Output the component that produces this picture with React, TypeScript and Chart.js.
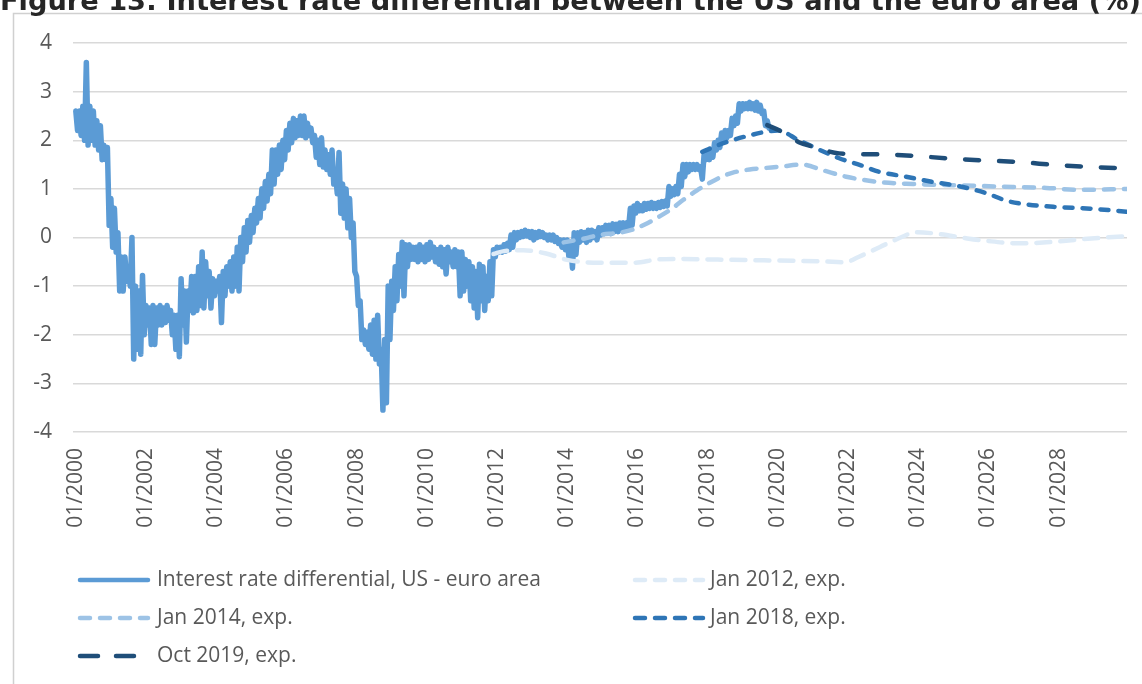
import React, { useEffect, useRef } from "react";
import { Chart, registerables } from "chart.js";

Chart.register(...registerables);

// ---------- text ----------
const TITLE = "Figure 13: Interest rate differential between the US and the euro area (%)";
const SERIES_LABELS = [
  "Interest rate differential, US - euro area",
  "Jan 2012, exp.",
  "Jan 2014, exp.",
  "Jan 2018, exp.",
  "Oct 2019, exp.",
];

// ---------- axes ----------
const X_TICK_YEARS = [2000, 2002, 2004, 2006, 2008, 2010, 2012, 2014, 2016, 2018, 2020, 2022, 2024, 2026, 2028];
const X_MIN = 1999.92;
const X_MAX = 2029.95;
const Y_MIN = -4;
const Y_MAX = 4;
const Y_STEP = 1;

// ---------- observed differential (upper / lower envelope per ~0.1 year slot) ----------
const mainStartYear = 2000;
const mainStepYears = 0.1;
const mainHigh = [
  // 2000
  2.6, 2.6, 2.7, 3.6, 2.7, 2.6, 2.4, 2.3, 1.9, 1.85,
  // 2001
  0.8, 0.6, 0.1, -0.4, -0.4, -0.6, 0.0, -1.0, -1.1, -0.78,
  // 2002
  -1.4, -1.45, -1.4, -1.45, -1.4, -1.45, -1.4, -1.5, -1.6, -1.6,
  // 2003
  -0.85, -1.1, -1.1, -0.8, -0.8, -0.6, -0.3, -0.5, -0.7, -0.85,
  // 2004
  -0.9, -0.8, -0.7, -0.6, -0.5, -0.4, -0.2, 0.0, 0.2, 0.35,
  // 2005
  0.45, 0.6, 0.8, 1.0, 1.15, 1.3, 1.8, 1.8, 1.9, 2.0,
  // 2006
  2.2, 2.35, 2.45, 2.4, 2.5, 2.5, 2.35, 2.25, 2.1, 2.0,
  // 2007
  2.05, 1.8, 1.7, 1.8, 1.3, 1.75, 1.1, 1.0, 0.8, 0.3,
  // 2008
  -0.8, -1.3, -1.9, -1.95, -1.8, -1.7, -1.6, -2.3, -2.1, -1.0,
  // 2009
  -0.9, -0.6, -0.35, -0.1, -0.15, -0.15, -0.2, -0.2, -0.15, -0.2,
  // 2010
  -0.15, -0.1, -0.2, -0.25, -0.2, -0.25, -0.2, -0.3, -0.25, -0.3,
  // 2011
  -0.3, -0.45, -0.5, -0.6, -0.7, -0.55, -0.6, -0.8, -0.5, -0.25,
  // 2012
  -0.2, -0.2, -0.15, -0.12, 0.05, 0.1, 0.1, 0.12, 0.15, 0.12,
  // 2013
  0.12, 0.1, 0.12, 0.1, 0.05, 0.05, 0.05, 0.0, -0.05, -0.05,
  // 2014
  -0.05, -0.1, 0.1, 0.1, 0.12, 0.1, 0.15, 0.15, 0.12, 0.2,
  // 2015
  0.2, 0.25, 0.25, 0.28, 0.27, 0.3, 0.3, 0.3, 0.6, 0.65,
  // 2016
  0.7, 0.65, 0.7, 0.7, 0.72, 0.7, 0.72, 0.74, 0.75, 1.05,
  // 2017
  1.0, 1.05, 1.3, 1.5, 1.5, 1.5, 1.5, 1.5, 1.45, 1.7,
  // 2018
  1.75, 1.8, 1.95, 2.0, 2.15, 2.2, 2.2, 2.45, 2.5, 2.75,
  // 2019
  2.75, 2.75, 2.78, 2.75, 2.78, 2.72, 2.6, 2.4,
];
const mainLow = [
  // 2000
  2.2, 2.1, 2.0, 1.9, 2.0, 1.9, 1.8, 1.6, 1.6, 0.25,
  // 2001
  -0.2, -0.3, -1.1, -1.1, -0.9, -1.0, -2.5, -2.3, -2.4, -2.0,
  // 2002
  -1.8, -2.2, -2.2, -1.8, -1.8, -1.75, -1.7, -2.0, -2.3, -2.45,
  // 2003
  -1.8, -2.15, -1.5, -1.55, -1.5, -1.4, -1.45, -1.2, -1.45, -1.2,
  // 2004
  -1.1, -1.75, -1.2, -1.0, -1.1, -1.0, -1.1, -0.5, -0.3, -0.1,
  // 2005
  0.1, 0.3, 0.4, 0.6, 0.75, 0.9, 1.1, 1.3, 1.4, 1.6,
  // 2006
  1.8, 1.95, 2.05, 2.1, 2.1, 2.05, 2.1, 1.95, 1.65, 1.5,
  // 2007
  1.45, 1.4, 1.3, 1.1, 0.9, 0.5, 0.4, 0.2, 0.0, -0.7,
  // 2008
  -1.4, -2.1, -2.2, -2.3, -2.4, -2.5, -2.6, -3.55, -3.4, -2.1,
  // 2009
  -1.5, -1.3, -1.0, -1.2, -0.6, -0.45, -0.45, -0.5, -0.45, -0.5,
  // 2010
  -0.45, -0.4, -0.5, -0.55, -0.6, -0.75, -0.5, -0.6, -0.6, -1.2,
  // 2011
  -1.1, -1.0, -1.3, -1.45, -1.65, -1.3, -1.5, -1.3, -1.2, -0.4,
  // 2012
  -0.3, -0.3, -0.28, -0.25, -0.2, -0.05, 0.0, 0.02, 0.03, 0.0,
  // 2013
  -0.05, 0.0, 0.02, 0.0, -0.05, -0.05, -0.08, -0.12, -0.2, -0.25,
  // 2014
  -0.4, -0.63, -0.35, -0.1, -0.05, -0.1, -0.05, 0.0, -0.05, 0.05,
  // 2015
  0.08, 0.1, 0.08, 0.12, 0.12, 0.15, 0.18, 0.2, 0.25, 0.5,
  // 2016
  0.55, 0.55, 0.58, 0.6, 0.6, 0.6, 0.62, 0.64, 0.65, 0.85,
  // 2017
  0.88, 0.9, 1.05, 1.25, 1.35, 1.4, 1.4, 1.4, 1.2, 1.6,
  // 2018
  1.6, 1.65, 1.8, 1.85, 2.0, 2.05, 2.1, 2.3, 2.35, 2.6,
  // 2019
  2.65, 2.65, 2.65, 2.62, 2.6, 2.55, 2.3, 2.25,
];

// ---------- market expectations ----------
const jan2012Years = [2011.9, 2012.2, 2012.75, 2013.4, 2014.0, 2014.9, 2015.9, 2016.6, 2017.2, 2018.0, 2018.7, 2019.6, 2020.6, 2021.3, 2021.9, 2022.3, 2022.9, 2023.5, 2023.95, 2024.6, 2025.4, 2025.95, 2026.9, 2027.65, 2028.6, 2029.95];
const jan2012Values = [-0.34, -0.28, -0.26, -0.33, -0.46, -0.52, -0.52, -0.45, -0.44, -0.45, -0.46, -0.47, -0.48, -0.49, -0.51, -0.4, -0.2, 0.0, 0.11, 0.07, -0.02, -0.07, -0.12, -0.1, -0.04, 0.03];

const jan2014Years = [2013.9, 2014.5, 2014.9, 2015.5, 2015.9, 2016.3, 2016.6, 2017.0, 2017.3, 2017.7, 2018.05, 2018.4, 2018.7, 2019.2, 2019.65, 2020.1, 2020.7, 2021.3, 2021.95, 2022.9, 2023.85, 2024.8, 2025.75, 2026.7, 2027.65, 2028.6, 2029.95];
const jan2014Values = [-0.1, -0.02, 0.05, 0.1, 0.17, 0.3, 0.42, 0.6, 0.77, 0.97, 1.12, 1.25, 1.33, 1.4, 1.43, 1.46, 1.5, 1.38, 1.25, 1.14, 1.1, 1.08, 1.06, 1.04, 1.02, 0.98, 1.0];

const jan2018Years = [2017.85, 2018.3, 2018.7, 2019.2, 2019.7, 2020.0, 2020.6, 2021.2, 2021.75, 2022.35, 2022.9, 2023.65, 2024.35, 2025.2, 2025.95, 2026.5, 2026.9, 2027.85, 2028.97, 2029.95];
const jan2018Values = [1.76, 1.9, 2.0, 2.1, 2.18, 2.2, 2.0, 1.8, 1.63, 1.49, 1.35, 1.25, 1.15, 1.05, 0.91, 0.76, 0.7, 0.63, 0.59, 0.53];

const oct2019Years = [2019.7, 2020.05, 2020.6, 2021.0, 2021.75, 2022.9, 2023.85, 2024.8, 2025.75, 2026.9, 2027.95, 2028.95, 2029.95];
const oct2019Values = [2.31, 2.2, 1.96, 1.87, 1.73, 1.71, 1.68, 1.63, 1.59, 1.55, 1.49, 1.45, 1.42];

// ---------- styling ----------
const FONT_FAMILY = '"Open Sans", "Noto Sans", sans-serif';
const TEXT_COLOR = "#595959";
const GRID_COLOR = "#D9D9D9";
const COLORS = ["#5B9BD5", "#DEEBF7", "#9DC3E6", "#2E75B6", "#1F4E79"];

function toPoints(xs: number[], ys: number[]) {
  return xs.map((x, i) => ({ x, y: ys[i] }));
}

function buildMainPoints() {
  const pts: { x: number; y: number }[] = [];
  mainHigh.forEach((h, i) => {
    const t = mainStartYear + i * mainStepYears;
    pts.push({ x: t, y: h });
    pts.push({ x: t + mainStepYears / 2, y: mainLow[i] });
  });
  return pts;
}

const framePlugin = {
  id: "frameAndTitle",
  beforeDraw(chart: any) {
    const ctx = chart.ctx as CanvasRenderingContext2D;
    const w = chart.width;
    const h = chart.height;
    ctx.save();
    ctx.fillStyle = "#ffffff";
    ctx.fillRect(0, 0, w, h);
    ctx.strokeStyle = "#D0D0D0";
    ctx.lineWidth = 1.5;
    ctx.strokeRect(13.5, 13.5, w + 20, h + 20);
    // title (partly cut by the top edge, as in the source)
    const probe = 100;
    ctx.font = `bold ${probe}px "DejaVu Sans", Verdana, sans-serif`;
    const measured = ctx.measureText(TITLE).width;
    const size = (probe * 1141) / measured;
    ctx.font = `bold ${size}px "DejaVu Sans", Verdana, sans-serif`;
    ctx.fillStyle = "#262626";
    ctx.textBaseline = "alphabetic";
    ctx.textAlign = "left";
    ctx.fillText(TITLE, 0, 10);
    ctx.restore();
  },
};

const legendPlugin = {
  id: "columnLegend",
  afterDraw(chart: any) {
    const ctx = chart.ctx as CanvasRenderingContext2D;
    const sampleX = [80, 635];
    const sampleLen = 68;
    const textX = [157, 710];
    const rowY = [580, 618, 656];
    chart.data.datasets.forEach((ds: any, i: number) => {
      const col = i % 2;
      const row = Math.floor(i / 2);
      const y = rowY[row];
      ctx.save();
      ctx.strokeStyle = ds.borderColor;
      ctx.lineWidth = Math.min(ds.borderWidth, 4.5);
      ctx.lineCap = ds.borderCapStyle || "butt";
      ctx.setLineDash(ds.legendDash || ds.borderDash || []);
      ctx.beginPath();
      ctx.moveTo(sampleX[col], y);
      ctx.lineTo(sampleX[col] + sampleLen, y);
      ctx.stroke();
      ctx.setLineDash([]);
      ctx.fillStyle = TEXT_COLOR;
      ctx.font = `21px ${FONT_FAMILY}`;
      ctx.textBaseline = "middle";
      ctx.textAlign = "left";
      ctx.fillText(ds.label, textX[col], y);
      ctx.restore();
    });
  },
};

export default function App() {
  const canvasRef = useRef<HTMLCanvasElement | null>(null);

  useEffect(() => {
    const canvas = canvasRef.current;
    if (!canvas) return;
    const lineBase = { pointRadius: 0, pointHoverRadius: 0, fill: false };
    const chart = new Chart(canvas, {
      type: "line",
      data: {
        datasets: [
          {
            ...lineBase,
            label: SERIES_LABELS[0],
            data: buildMainPoints(),
            borderColor: COLORS[0],
            borderWidth: 5.5,
            borderJoinStyle: "round",
            borderCapStyle: "round",
            tension: 0,
            order: 5,
          },
          {
            ...lineBase,
            label: SERIES_LABELS[1],
            data: toPoints(jan2012Years, jan2012Values),
            borderColor: COLORS[1],
            borderWidth: 4.5,
            borderDash: [14, 10],
            legendDash: [10, 10],
            borderCapStyle: "round",
            cubicInterpolationMode: "monotone",
            order: 4,
          },
          {
            ...lineBase,
            label: SERIES_LABELS[2],
            data: toPoints(jan2014Years, jan2014Values),
            borderColor: COLORS[2],
            borderWidth: 4.5,
            borderDash: [10, 10],
            borderCapStyle: "round",
            cubicInterpolationMode: "monotone",
            order: 3,
          },
          {
            ...lineBase,
            label: SERIES_LABELS[3],
            data: toPoints(jan2018Years, jan2018Values),
            borderColor: COLORS[3],
            borderWidth: 4.5,
            borderDash: [8, 10],
            legendDash: [10, 10],
            borderCapStyle: "round",
            cubicInterpolationMode: "monotone",
            order: 2,
          },
          {
            ...lineBase,
            label: SERIES_LABELS[4],
            data: toPoints(oct2019Years, oct2019Values),
            borderColor: COLORS[4],
            borderWidth: 4.5,
            borderDash: [14, 20],
            legendDash: [18, 18],
            borderCapStyle: "round",
            cubicInterpolationMode: "monotone",
            order: 1,
          },
        ] as any,
      },
      options: {
        animation: false,
        responsive: false,
        maintainAspectRatio: false,
        devicePixelRatio: 1,
        events: [],
        layout: { padding: { left: 0, right: 15, top: 43, bottom: 0 } },
        plugins: {
          legend: { display: false },
          title: { display: false },
          tooltip: { enabled: false },
        },
        scales: {
          x: {
            type: "linear",
            min: X_MIN,
            max: X_MAX,
            afterBuildTicks: (scale: any) => {
              scale.ticks = X_TICK_YEARS.map((v) => ({ value: v }));
            },
            afterFit: (scale: any) => {
              scale.height = 252;
            },
            grid: { display: false, drawTicks: false },
            border: { display: false },
            ticks: {
              autoSkip: false,
              minRotation: 90,
              maxRotation: 90,
              padding: 16,
              color: TEXT_COLOR,
              font: { family: FONT_FAMILY, size: 21 },
              callback: (v: any) => "01/" + v,
            },
          },
          y: {
            min: Y_MIN,
            max: Y_MAX,
            afterFit: (scale: any) => {
              scale.width = 73;
            },
            grid: { color: GRID_COLOR, lineWidth: 1.5, drawTicks: false },
            border: { display: false },
            ticks: {
              stepSize: Y_STEP,
              padding: 21,
              color: TEXT_COLOR,
              font: { family: FONT_FAMILY, size: 21 },
            },
          },
        },
      } as any,
      plugins: [framePlugin, legendPlugin],
    });
    return () => chart.destroy();
  }, []);

  return (
    <div style={{ position: "fixed", left: 0, top: 0, width: 1142, height: 684, background: "#fff" }}>
      <canvas ref={canvasRef} width={1142} height={684} style={{ display: "block", width: 1142, height: 684 }} />
    </div>
  );
}
